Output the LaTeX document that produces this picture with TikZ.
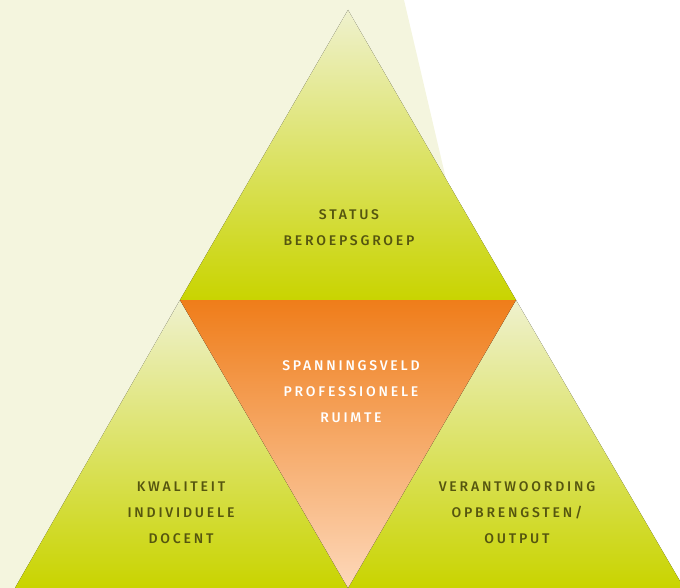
\documentclass[tikz,border=0pt]{standalone}
\usepackage{fontspec}
\setmainfont{Fira Sans}[UprightFont={* Medium}, LetterSpace=20]
\definecolor{pale}{HTML}{F4F5DE}
\definecolor{lime}{HTML}{C9D400}
\definecolor{limelight}{HTML}{EFF1CE}
\definecolor{orangetop}{HTML}{EF7D1A}
\definecolor{orangebot}{HTML}{FDD8BA}
\definecolor{olive}{HTML}{55550F}
\tikzset{
  greentri/.style={top color=limelight, bottom color=lime},
  label/.style={align=center, text=olive, font=\fontsize{14}{26}\selectfont},
  midlabel/.style={label, text=white}
}
\begin{document}
\begin{tikzpicture}[x=1pt,y=-1pt]
\useasboundingbox (0,0) rectangle (680,588);

\fill[pale] (0,0) -- (404,0) -- (542,588) -- (0,588) -- cycle;

\coordinate (apex) at (348,10);
\coordinate (left) at (180,300);
\coordinate (right) at (516,300);
\coordinate (bl) at (15,588);
\coordinate (bm) at (348,588);
\coordinate (br) at (684,588);

\fill[greentri] (apex) -- (right) -- (left) -- cycle;
\fill[greentri] (left) -- (bm) -- (bl) -- cycle;
\fill[greentri] (right) -- (br) -- (bm) -- cycle;
\fill[top color=orangetop, bottom color=orangebot] (left) -- (right) -- (bm) -- cycle;

\node[label] (status) at (349,228) {STATUS\\BEROEPSGROEP};
\node[midlabel] (ruimte) at (351,392) {SPANNINGSVELD\\PROFESSIONELE\\RUIMTE};
\node[label] (docent) at (181,513) {KWALITEIT\\INDIVIDUELE\\DOCENT};
\node[label] (output) at (517,513) {VERANTWOORDING\\OPBRENGSTEN/\\OUTPUT};

\end{tikzpicture}
\end{document}
